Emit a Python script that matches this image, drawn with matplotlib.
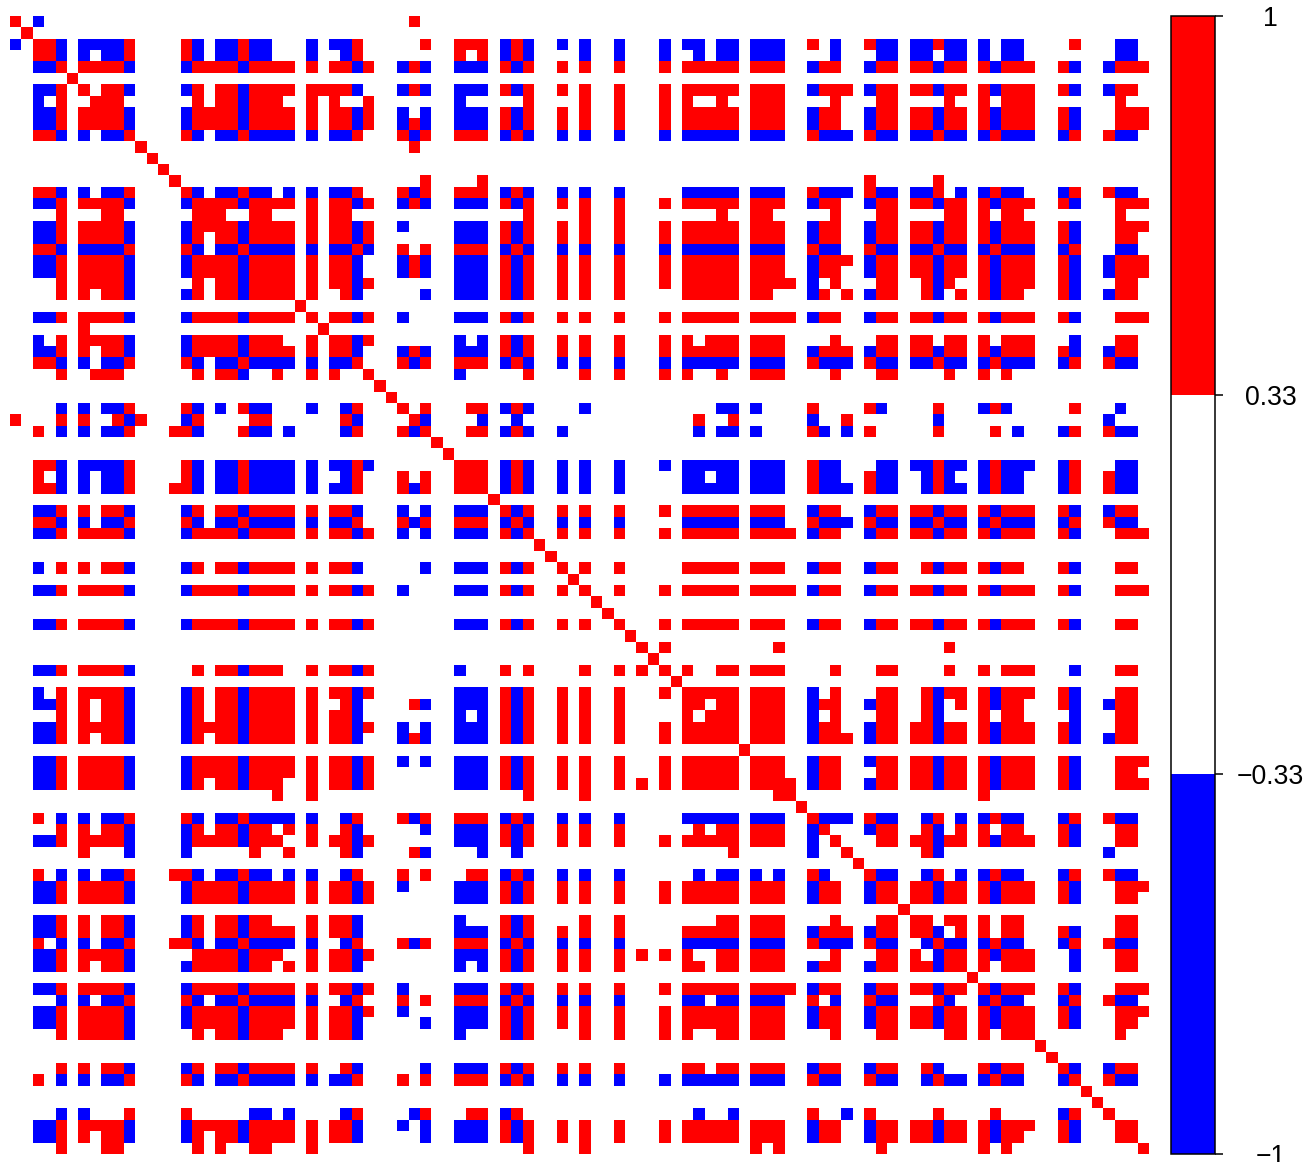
import numpy as np
import matplotlib
matplotlib.use('Agg')
import matplotlib.pyplot as plt
from matplotlib.colors import ListedColormap, BoundaryNorm

plt.rcParams['font.family'] = ['Liberation Sans', 'DejaVu Sans']

n_vars = 100
# cells of each row, R = positive, B = negative, everything else is blank
rows = {
    0: "R0 B2 R35",
    1: "R1",
    2: "B0 R2-3 B4 B6-9 R10 R15 B16 B18-19 R20 B21-22 B26 B28-29 R30 R36 R39-41 B43 R44 B45 B48 B50 B53 B57 B59-60 B62-63 B65-67 R70 B72 R75 B76-77 B79-80 R81 B82-83 B85 B87-88 R93 B97-98",
    3: "R2-3 B4 B6 B8-9 R10 R15 B16 B18-19 R20 B21-22 B26 B29 R30 R39 R41 B43 R44 B45 B50 B53 B57 B60 B62-63 B65-67 B72 B76-77 B79-80 B82-83 B85 B87-88 B97-98",
    4: "B2-3 R4 R6-9 B10 B15 R16-19 B20 R21-24 R26 R28-29 B30 R31 B34 R35 B36 B39-41 R43 B44 R45 R48 R50 R53 R57 R59-63 R65-67 B70 R71-72 B75 R76-77 R79-80 B81 R82-83 R85 B86 R87-89 R92 B93 B96 R97-99",
    5: "R5",
    6: "B2-3 R4 R6 R8-9 B10 B15 R16 R18-19 B20 R21-24 R26-29 B30 B34 R35 B36 B39-41 R43 B44 R45 R48 R50 R53 R57 R59-63 R65-67 B70 R71-73 B75 R76-77 R79-80 B81 R82-83 R85 B86 R87-89 R92 B93 B96 R97-98",
    7: "B2 R4 R7-9 R16 R18-19 B20 R21-23 R26 R28 R31 B39 R45 R50 R53 R57 R59 R62 R65-67 R72 R76-77 R82 R85 R87-89 R97",
    8: "B2-3 R4 R6-9 B10 B15 R16-19 B20 R21-24 R26 R28-29 B30 R31 B34 B36 B39-41 R43 B44 R45 R48 R50 R53 R57 R59-63 R65-67 B70 R71-72 B75 R76-77 R79-80 B81 R82-83 R85 B86 R87-89 R92 B93 R97-99",
    9: "B2-3 R4 R6-9 B10 B15 R16-19 B20 R21-24 R26 R28-29 B30 R31 B34 R35 B36 B39-41 R43 B44 R45 R48 R50 R53 R57 R59-63 R65-67 B70 R71-72 B75 R76-77 R79-80 B81 R82-83 R85 B86 R87-89 R92 B93 R97-99",
    10: "R2-3 B4 B6 B8-9 R10 R15 B16 B18-19 R20 B21-24 B26 B28-29 R30 R34 B35 R36 R39-41 B43 R44 B45 B48 B50 B53 B57 B59-63 B65-67 R70 B71-73 R75 B76-77 B79-80 R81 B82-83 B85 R86 B87-89 B92 R93 R96 B97-98",
    11: "R11 R35",
    12: "R12",
    13: "R13",
    14: "R14 R36 R41 R75 R81",
    15: "R2-3 B4 B6 B8-9 R10 R15 B16 B18-19 R20 B21-22 B24 B26 B28-29 R30 R34 B35 R36 R39-41 B43 R44 B45 B48 B50 B53 B59-63 B65-67 R70 B71-73 R75 B76-77 B79-80 R81 B83 B85 R86 B87-88 B92 R93 R96 B97-98",
    16: "B2-3 R4 R6-9 B10 B15 R16-19 B20 R21-24 R26 R28-29 B30 R31 B34 R35 B36 B39-41 R43 B44 R45 R48 R50 R53 R57 R59-63 R65-67 B70 R71-72 B75 R76-77 R79-80 B81 R82-83 R85 B86 R87-89 R92 B93 R97-99",
    17: "R4 R8-9 R16-18 R21-22 R26 R28-29 R45 R50 R53 R62 R65-66 R72 R76-77 R82-83 R85 R87-88 R97",
    18: "B2-3 R4 R6-9 B10 B15 R16-19 B20 R21-24 R26 R28-29 B30 R31 B34 B39-41 R43 B44 R45 R48 R50 R53 R57 R59-63 R65-67 B70 R71-72 B75 R76-77 R79-80 B81 R82-83 R85 B86 R87-89 R92 B93 R97-99",
    19: "B2-3 R4 R6-9 B10 B15 R16 R18-19 B20 R21-24 R26 R28-29 B30 R31 B39-41 R43 B44 R45 R48 R50 R53 R57 R59-63 R65-67 B70 R71-72 B75 R76-77 R79-80 B81 R82-83 R85 B86 R87-89 R92 B93 R97-98",
    20: "R2-3 B4 B6-9 R10 R15 B16 B18-19 R20 B21-24 B26 B28-29 R30 B31 R34 R36 R39-41 B43 R44 B45 B48 B50 B53 B57 B59-63 B65-67 R70 B71-72 R75 B76-77 B79-80 R81 B82-83 B85 R86 B87-89 B92 R93 B97-98",
    21: "B2-3 R4 R6-9 B10 B15 R16-19 B20 R21-24 R26 R28-29 B30 B34 R35 B36 B39-41 R43 B44 R45 R48 R50 R53 R57 R59-63 R65-67 B70 R71-73 B75 R76-77 R79-80 B81 R82-83 R85 B86 R87-89 R92 B93 B96 R97-99",
    22: "B2-3 R4 R6-9 B10 B15 R16-19 B20 R21-24 R26 R28-29 B30 B34 R35 B36 B39-41 R43 B44 R45 R48 R50 R53 R57 R59-63 R65-67 B70 R71-72 B75 R76-77 R79-80 B81 R82-83 R85 B86 R87-89 R92 B93 B96 R97-99",
    23: "R4 R6-9 B10 R16 R18-19 B20 R21-24 R26 R28-29 B30 R31 B39-41 R43 B44 R45 R48 R50 R53 R57 R59-63 R65-68 B70 R72 R76-77 R80 B81 R82 R85 B86 R87-89 R92 B93 R97-98",
    24: "R4 R6 R8-9 B10 B15 R16 R18-19 B20 R21-24 R26 R29 B30 B36 B39-41 R43 B44 R45 R48 R50 R53 R59-63 R65-66 B70 R71 R73 B75 R76-77 R80 B81 R83 R85 B86 R87-88 R92 B93 B96 R97-98",
    25: "R25",
    26: "B2-3 R4 R6-9 B10 B15 R16-19 B20 R21-24 R26 R28-29 B30 R31 B34 B39-41 R43 B44 R45 R48 R50 R53 R57 R59-63 R65-68 B70 R71-72 B75 R76-77 R79-80 B81 R82-83 R85 B86 R87-89 R92 B93 R97-99",
    27: "R6 R27",
    28: "B2 R4 R6-9 B10 B15 R16-19 B20 R21-23 R26 R28-29 B30 R31 B39 B41 R43 B44 R45 R48 R50 R53 R57 R59 R61-63 R65-67 R72 R76-77 R79-80 R82-83 R85 R87-89 B93 R97-98",
    29: "B2-3 R4 R6 R8-9 B10 B15 R16-19 B20 R21-24 R26 R28-29 B30 B34 R35 B36 B39-41 R43 B44 R45 R48 R50 R53 R57 R59-63 R65-67 B70 R71-73 B75 R76-77 R79-80 B81 R82-83 R85 B86 R87-89 R92 B93 B96 R97-98",
    30: "R2-3 B4 B6 B8-9 R10 R15 B16 B18-19 R20 B21-24 B26 B28-29 R30 R34 B35 R36 R39-41 B43 R44 B45 B48 B50 B53 B57 B59-63 B65-67 R70 B71-73 R75 B76-77 B79-80 R81 B82-83 B85 R86 B87-89 B92 R93 R96 B97-98",
    31: "R4 R7-9 R16 R18-19 B20 R23 R26 R28 R31 B39 R45 R50 R53 R57 R59 R62 R65-67 R72 R76-77 R82 R85 R87",
    32: "R32",
    33: "R33",
    34: "B4 B6 B8-9 R10 R15 B16 B18 R20 B21-22 B26 B29 R30 R34 R36 R40-41 B43 R44 B45 B50 B62-63 B65 R70 R75 B76 R81 B85 R86 B87 R93 B97",
    35: "R0 R4 R6 R9 B10 R11 B15 R16 R21-22 R29 B30 R35 B36 B41 B44 R60 R63 B70 R73 B81 B96",
    36: "R2 B4 B6 B8-9 R10 R14-15 B16 R20 B21-22 B24 B29 R30 R34 B35 R36 R40-41 B43 R44 B45 B48 B60 B62-63 B65 R70 B71 B73 R75 R81 R86 B88 B92 R93 R96 B97-98",
    37: "R37",
    38: "R38",
    39: "R2-3 B4 B6-9 R10 R15 B16 B18-19 R20 B21-24 B26 B28-29 R30 B31 R39-41 B43 R44 B45 B48 B50 B53 B57 B59-63 B65-67 R70 B71-72 B76-77 B79-80 R81 B82-83 B85 R86 B87-89 B92 R93 B97-98",
    40: "R2 B4 B6 B8-9 R10 R15 B16 B18-19 R20 B21-24 B26 B29 R30 R34 R36 R39-41 B43 R44 B45 B48 B50 B53 B59-60 B62-63 B65-67 R70 B71-72 R75 B76-77 B80 R81 B82 B85 R86 B87-88 B92 R93 R96 B97-98",
    41: "R2-3 B4 B6 B8-9 R10 R14-15 B16 B18-19 R20 B21-24 B26 B28-29 R30 R34 B35 R36 R39-41 B43 R44 B45 B48 B50 B53 B59-63 B65-67 R70 B71-73 R75 B76-77 B80 R81 B82-83 B85 R86 B87-88 B92 R93 R96 B97-98",
    42: "R42",
    43: "B2-3 R4 R6 R8-9 B10 B15 R16 R18-19 B20 R21-24 R26 R28-29 B30 B34 B36 B39-41 R43 B44 R45 R48 R50 R53 R57 R59-63 R65-67 B70 R71-72 B75 R76-77 R79-80 B81 R82-83 R85 B86 R87-89 R92 B93 B96 R97-98",
    44: "R2-3 B4 B6 B8-9 R10 R15 B16 B18-19 R20 B21-24 B26 B28-29 R30 R34 B35 R36 R39-41 B43 R44 B45 B48 B50 B53 B59-63 B65-67 R70 B71-73 R75 B76-77 B79-80 R81 B82-83 B85 R86 B87-89 B92 R93 R96 B97-98",
    45: "B2-3 R4 R6-9 B10 B15 R16-19 B20 R21-24 R26 R28-29 B30 R31 B34 B36 B39-41 R43 B44 R45 R48 R50 R53 R57 R59-63 R65-68 B70 R71-72 B75 R76-77 R79-80 B81 R82-83 R85 B86 R87-89 R92 B93 R97-99",
    46: "R46",
    47: "R47",
    48: "B2 R4 R6 R8-9 B10 B15 R16 R18-19 B20 R21-24 R26 R28-29 B30 B36 B39-41 R43 B44 R45 R48 R50 R53 R59-63 R65-67 B70 R71-72 B75 R76-77 R80 B81 R82-83 R85 B86 R87-88 R92 B93 R97-98",
    49: "R49",
    50: "B2-3 R4 R6-9 B10 B15 R16-19 B20 R21-24 R26 R28-29 B30 R31 B34 B39-41 R43 B44 R45 R48 R50 R53 R57 R59-63 R65-68 B70 R71-72 B75 R76-77 R79-80 B81 R82-83 R85 B86 R87-89 R92 B93 R97-99",
    51: "R51",
    52: "R52",
    53: "B2-3 R4 R6-9 B10 B15 R16-19 B20 R21-24 R26 R28-29 B30 R31 B39-41 R43 B44 R45 R48 R50 R53 R57 R59-63 R65-67 B70 R71-72 B75 R76-77 R79-80 B81 R82-83 R85 B86 R87-89 R92 B93 R97-98",
    54: "R54",
    55: "R55 R57 R67 R82",
    56: "R56",
    57: "B2-3 R4 R6-9 B10 R16 R18-19 B20 R21-23 R26 R28-29 B30 R31 B39 R43 R45 R50 R53 R55 R57 R59 R62-63 R65-67 R72 R76-77 R82 R85 R87-89 B93 R97-98",
    58: "R58",
    59: "B2 R4 R6-9 B10 B15 R16 R18-19 B20 R21-24 R26 R28-29 B30 R31 B39-41 R43 B44 R45 R48 R50 R53 R57 R59-63 R65-67 B70 R72 R76-77 R80 B81 R82-83 R85 B86 R87-89 R92 B93 R97-98",
    60: "B2-3 R4 R6 R8-9 B10 B15 R16 R18-19 B20 R21-24 R26 R29 B30 R35 B36 B39-41 R43 B44 R45 R48 R50 R53 R59-60 R62-63 R65-67 B70 R71-72 B75 R76-77 R80 B81 R83 R85 B86 R87-88 R92 B93 B96 R97-98",
    61: "R4 R6 R8-9 B10 B15 R16 R18-19 B20 R21-24 R26 R28-29 B30 B39 B41 R43 B44 R45 R48 R50 R53 R59 R61-63 R65-67 B70 R72 R76-77 R80 B81 R85 R87-88 B93 R97-98",
    62: "B2-3 R4 R6-9 B10 B15 R16-19 B20 R21-24 R26 R28-29 B30 R31 B34 B36 B39-41 R43 B44 R45 R48 R50 R53 R57 R59-63 R65-67 B70 R71-72 B75 R76-77 R79-80 B81 R82-83 R85 B86 R87-89 R92 B93 R97-98",
    63: "B2-3 R4 R6 R8-9 B10 B15 R16 R18-19 B20 R21-24 R26 R28-29 B30 B34 R35 B36 B39-41 R43 B44 R45 R48 R50 R53 R57 R59-63 R65-67 B70 R71-73 B75 R76-77 R79-80 B81 R82-83 R85 B86 R87-89 R92 B93 B96 R97-98",
    64: "R64",
    65: "B2-3 R4 R6-9 B10 B15 R16-19 B20 R21-24 R26 R28-29 B30 R31 B34 B36 B39-41 R43 B44 R45 R48 R50 R53 R57 R59-63 R65-67 B70 R71-72 B75 R76-77 R79-80 B81 R82-83 R85 B86 R87-89 R92 B93 R97-99",
    66: "B2-3 R4 R6-9 B10 B15 R16-19 B20 R21-24 R26 R28-29 B30 R31 B39-41 R43 B44 R45 R48 R50 R53 R57 R59-63 R65-67 B70 R71-72 R76-77 R79-80 B81 R82-83 R85 B86 R87-89 R92 B93 R97-98",
    67: "B2-3 R4 R6-9 B10 B15 R16 R18-19 B20 R21-23 R26 R28-29 B30 R31 B39-41 R43 B44 R45 R48 R50 R53 R55 R57 R59-63 R65-68 B70 R71-72 B75 R76-77 R79-80 B81 R82-83 R85 B86 R87-89 R92 B93 R97-99",
    68: "R23 R26 R45 R50 R67-68 R85",
    69: "R69",
    70: "R2 B4 B6 B8-9 R10 R15 B16 B18-19 R20 B21-24 B26 B29 R30 R34 B35 R36 R39-41 B43 R44 B45 B48 B50 B53 B59-63 B65-67 R70 B71-73 R75 B76-77 B80 R81 B83 B85 R86 B87-88 B92 R93 R96 B97-98",
    71: "R4 R6 R8-9 B10 B15 R16 R18-19 B20 R21-22 R24 R26 R29 B30 B36 B39-41 R43 B44 R45 R48 R50 R53 R60 R62-63 R65-67 B70 R71 B75 R76-77 R80 B81 R83 R85 R87-88 R92 B93 R97-98",
    72: "B2-3 R4 R6-9 B10 B15 R16-19 B20 R21-23 R26 R28-29 B30 R31 B39-41 R43 B44 R45 R48 R50 R53 R57 R59-63 R65-67 B70 R72 R76-77 R79-80 B81 R82-83 R85 B86 R87-89 R92 B93 R97-98",
    73: "R6 B10 B15 R21 R24 R29 B30 R35 B36 B41 B44 R63 B70 R73 R80 B81 B96",
    74: "R74",
    75: "R2 B4 B6 B8-9 R10 R14-15 B16 B18-19 R20 B21-22 B24 B26 B29 R30 R34 R36 R40-41 B43 R44 B45 B48 B50 B53 B60 B62-63 B65 B67 R70 B71 R75 B76-77 B80 R81 B83 B85 R86 B87-88 B92 R93 R96 B97-98",
    76: "B2-3 R4 R6-9 B10 B15 R16-19 B20 R21-24 R26 R28-29 B30 R31 B34 B39-41 R43 B44 R45 R48 R50 R53 R57 R59-63 R65-67 B70 R71-72 B75 R76-77 R79-80 B81 R82-83 R85 B86 R87-89 R92 B93 R97-99",
    77: "B2-3 R4 R6-9 B10 B15 R16-19 B20 R21-24 R26 R28-29 B30 R31 B39-41 R43 B44 R45 R48 R50 R53 R57 R59-63 R65-67 B70 R71-72 B75 R76-77 R79-80 B81 R82-83 R85 B86 R87-89 R92 B93 R97-98",
    78: "R78",
    79: "B2-3 R4 R6 R8-9 B10 B15 R16 R18-19 B20 R21-22 R26 R28-29 B30 B39 R43 B44 R45 R50 R53 R62-63 R65-67 R72 R76-77 R79-80 R82-83 R85 R87-88 R97-98",
    80: "B2-3 R4 R6 R8-9 B10 B15 R16 R18-19 B20 R21-24 R26 R28-29 B30 B39-41 R43 B44 R45 R48 R50 R53 R59-63 R65-67 B70 R71-73 B75 R76-77 R79-80 B81 R83 R85 R87-88 R92 B93 R97-98",
    81: "R2 B4 B6 B8-9 R10 R14-15 B16 B18-19 R20 B21-24 B26 B29 R30 R34 B35 R36 R39-41 B43 R44 B45 B48 B50 B53 B59-63 B65-67 R70 B71-73 R75 B76-77 B80 R81 B82-83 B85 R86 B87-88 B92 R93 R96 B97-98",
    82: "B2-3 R4 R6-9 B10 R16-19 B20 R21-23 R26 R28-29 B30 R31 B39-41 R43 B44 R45 R48 R50 R53 R55 R57 R59 R62-63 R65-67 R72 R76-77 R79 B81 R82-83 R85 B86 R87-89 B93 R97-98",
    83: "B2-3 R4 R6 R8-9 B10 B15 R16-19 B20 R21-22 R24 R26 R28-29 B30 B39 B41 R43 B44 R45 R48 R50 R53 R59-60 R62-63 R65-67 B70 R71-72 B75 R76-77 R79-80 B81 R82-83 R85 R87-89 B93 R97-98",
    84: "R84",
    85: "B2-3 R4 R6-9 B10 B15 R16-19 B20 R21-24 R26 R28-29 B30 R31 B34 B39-41 R43 B44 R45 R48 R50 R53 R57 R59-63 R65-68 B70 R71-72 B75 R76-77 R79-80 B81 R82-83 R85 B86 R87-89 R92 B93 R97-99",
    86: "B4 B6 B8-9 R10 R15 B16 B18-19 R20 B21-24 B26 B29 R30 R34 R36 R39-41 B43 R44 B45 B48 B50 B53 B59-60 B62-63 B65-67 R70 B72 R75 B76-77 R81 B82 B85 R86 B87-88 B92 R93 R96 B97-98",
    87: "B2-3 R4 R6-9 B10 B15 R16-19 B20 R21-24 R26 R28-29 B30 R31 B34 B39-41 R43 B44 R45 R48 R50 R53 R57 R59-63 R65-67 B70 R71-72 B75 R76-77 R79-80 B81 R82-83 R85 B86 R87-89 R92 B93 R97-99",
    88: "B2-3 R4 R6-9 B10 B15 R16-19 B20 R21-24 R26 R28-29 B30 B36 B39-41 R43 B44 R45 R48 R50 R53 R57 R59-63 R65-67 B70 R71-72 B75 R76-77 R79-80 B81 R82-83 R85 B86 R87-89 R92 B93 R97-98",
    89: "R4 R6-9 B10 R16 R18-19 B20 R21-23 R26 R28-29 B30 B39 R43 B44 R45 R50 R53 R57 R59 R62-63 R65-67 R72 R76-77 R82-83 R85 R87-89 R97",
    90: "R90",
    91: "R91",
    92: "R4 R6 R8-9 B10 B15 R16 R18-19 B20 R21-24 R26 R29 B30 B36 B39-41 R43 B44 R45 R48 R50 R53 R59-60 R62-63 R65-67 B70 R71-72 B75 R76-77 R80 B81 R85 B86 R87-88 R92 B93 B96 R97-98",
    93: "R2 B4 B6 B8-9 R10 R15 B16 B18-19 R20 B21-24 B26 B28-29 R30 R34 R36 R39-41 B43 R44 B45 B48 B50 B53 B57 B59-63 B65-67 R70 B71-72 R75 B76-77 B80 R81 B82-83 B85 R86 B87-88 B92 R93 R96 B97-98",
    94: "R94",
    95: "R95",
    96: "B4 B6 R10 R15 B21-22 B24 B29 R30 B35 R36 R40-41 B43 R44 B60 B63 R70 B73 R75 R81 R86 B92 R93 R96",
    97: "B2-3 R4 R6-9 B10 B15 R16-19 B20 R21-24 R26 R28-29 B30 B34 B36 B39-41 R43 B44 R45 R48 R50 R53 R57 R59-63 R65-67 B70 R71-72 B75 R76-77 R79-80 B81 R82-83 R85 B86 R87-89 R92 B93 R97-98",
    98: "B2-3 R4 R6 R8-9 B10 B15 R16 R18-19 B20 R21-24 R26 R28-29 B30 B36 B39-41 R43 B44 R45 R48 R50 R53 R57 R59-63 R65-67 B70 R71-72 B75 R76-77 R79-80 B81 R82-83 R85 B86 R87-88 R92 B93 R97-98",
    99: "R4 R8-9 R16 R18 R21-22 R26 R45 R50 R65 R67 R76 R85 R87 R99",
}
breaks = [-1, -1 / 3, 1 / 3, 1]
tick_labels = ['\u22121', '\u22120.33', '0.33', '1']
colors = ['#0000ff', '#ffffff', '#ff0000']

mat = np.zeros((n_vars, n_vars))
for r, spec in rows.items():
    for tok in spec.split():
        val = 1 if tok[0] == 'R' else -1
        parts = tok[1:].split('-')
        mat[r, int(parts[0]):int(parts[-1]) + 1] = val

W, H = 1305, 1162
fig = plt.figure(figsize=(W / 100, H / 100), dpi=100)
ax = fig.add_axes([9.7 / W, 1 - 1153.7 / H, 1139 / W, 1138 / H])
cmap = ListedColormap(colors)
norm = BoundaryNorm(breaks, cmap.N)
im = ax.imshow(mat, cmap=cmap, norm=norm, aspect='auto', interpolation='nearest')
ax.axis('off')

cax = fig.add_axes([1170.5 / W, 1 - 1153.7 / H, 44.5 / W, 1138 / H])
cb = fig.colorbar(im, cax=cax, ticks=breaks, spacing='proportional')
cb.outline.set_linewidth(1.1)
cb.ax.minorticks_off()
cb.ax.tick_params(length=6, width=1.1, pad=34, labelsize=19.2)
cb.ax.set_yticklabels(tick_labels, ha='center')

fig.savefig('out.png', dpi=100)
